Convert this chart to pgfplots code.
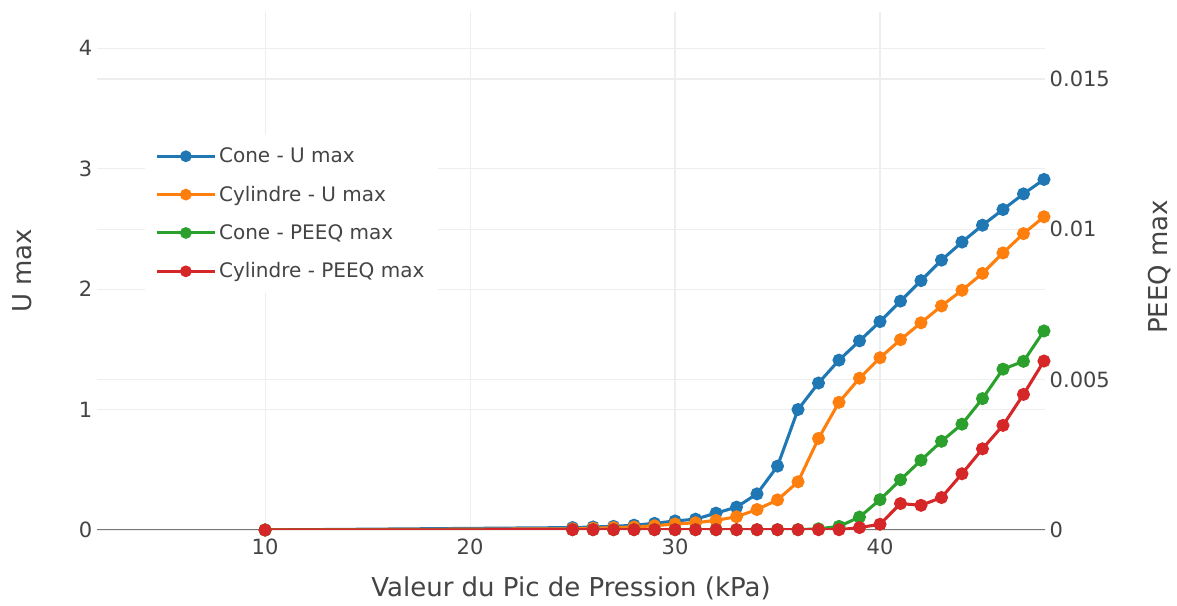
\documentclass[border=0pt]{standalone}
\usepackage{pgfplots}
\pgfplotsset{compat=1.18}
\usepackage{fontspec}
\setmainfont{DejaVu Sans}
\definecolor{pblue}{HTML}{1F77B4}
\definecolor{porange}{HTML}{FF7F0E}
\definecolor{pgreen}{HTML}{2CA02C}
\definecolor{pred}{HTML}{D62728}
\definecolor{txt}{HTML}{444444}
\definecolor{zline}{HTML}{777777}
\definecolor{gridc}{HTML}{EEEEEE}
\begin{document}
\begin{tikzpicture}
\pgfplotsset{
  base/.style={
    scale only axis, width=711pt, height=388.5pt,
    xmin=1.8, xmax=48.05,
    axis line style={draw=none},
    major tick length=0pt,
    scaled y ticks=false,
    tick label style={font=\fontsize{15.75}{18}\selectfont, text=txt},
    label style={font=\fontsize{19.5}{23}\selectfont, text=txt},
    grid style={gridc, line width=0.8pt},
    major grid style={gridc, line width=0.8pt},
    /pgf/number format/assume math mode=true,
  },
  ser/.style={line width=2.3pt, mark=*, mark size=3.7pt, #1, mark options={solid, fill=#1}},
}
\begin{axis}[base,
  ymin=0, ymax=4.3,
  ytick={0,1,2,3,4},
  xtick={10,20,30,40},
  xmajorgrids, ymajorgrids,
  extra y ticks={1.2478,2.4956,3.7435},
  extra y tick labels={},
  extra y tick style={grid=major, major grid style={gridc, line width=0.8pt}},
  xticklabel style={yshift=-3pt},
  xlabel={Valeur du Pic de Pression (kPa)},
  xlabel style={at={(axis description cs:0.5,0)}, anchor=center, yshift=-44pt},
  ylabel={U max},
  ylabel style={at={(axis description cs:-0.079,0.5)}, anchor=center},
]
\draw[color=zline, line width=1.8pt] (rel axis cs:0,0) -- (rel axis cs:1,0);
\addplot[ser=pblue] coordinates {
 (10,0) (25,0.02) (26,0.025) (27,0.03) (28,0.04) (29,0.055) (30,0.075) (31,0.09)
 (32,0.14) (33,0.19) (34,0.30) (35,0.53) (36,1.0) (37,1.22) (38,1.41) (39,1.57)
 (40,1.73) (41,1.90) (42,2.07) (43,2.24) (44,2.39) (45,2.53) (46,2.66) (47,2.79) (48,2.91)};
\addplot[ser=porange] coordinates {
 (10,0) (25,0.01) (26,0.015) (27,0.02) (28,0.025) (29,0.035) (30,0.05) (31,0.06)
 (32,0.08) (33,0.11) (34,0.17) (35,0.25) (36,0.40) (37,0.76) (38,1.06) (39,1.26)
 (40,1.43) (41,1.58) (42,1.72) (43,1.86) (44,1.99) (45,2.13) (46,2.30) (47,2.46) (48,2.60)};
\end{axis}
\begin{axis}[base,
  axis y line*=right, axis x line=none,
  ymin=0, ymax=0.01723,
  ytick={0,0.005,0.01,0.015},
  yticklabels={0,0.005,0.01,0.015},
  ylabel={PEEQ max},
  ylabel style={at={(axis description cs:1.1213,0.508)}, anchor=center},
  legend style={at={(0.05,0.764)}, anchor=north west, draw=none, fill=white,
    font=\fontsize{15}{18}\selectfont, text=txt, row sep=12pt,
    inner xsep=8pt, inner ysep=8pt, cells={anchor=west}},
  legend image code/.code={\draw[mark repeat=2, mark phase=2, mark size=3.2pt] plot coordinates {(0pt,0pt) (21.75pt,0pt) (43.5pt,0pt)};},
]
\addlegendimage{ser=pblue}
\addlegendentry{Cone - U max}
\addlegendimage{ser=porange}
\addlegendentry{Cylindre - U max}
\addplot[ser=pgreen] coordinates {
 (10,0) (25,0.00001) (26,0.00001) (27,0.00001) (28,0.00001) (29,0.00001) (30,0.00001)
 (31,0.00001) (32,0.00001) (33,0.00001) (34,0.00001) (35,0.00001) (36,0.00001)
 (37,0.00004) (38,0.00012) (39,0.00043) (40,0.00101) (41,0.00167) (42,0.00232)
 (43,0.00295) (44,0.00352) (45,0.00437) (46,0.00535) (47,0.00561) (48,0.00662)};
\addlegendentry{Cone - PEEQ max}
\addplot[ser=pred] coordinates {
 (10,0) (25,0.00001) (26,0.00001) (27,0.00001) (28,0.00001) (29,0.00001) (30,0.00001)
 (31,0.00001) (32,0.00001) (33,0.00001) (34,0.00001) (35,0.00001) (36,0.00001)
 (37,0.00001) (38,0.00001) (39,0.00008) (40,0.00019) (41,0.00088) (42,0.00082)
 (43,0.00108) (44,0.00187) (45,0.0027) (46,0.00348) (47,0.00451) (48,0.00562)};
\addlegendentry{Cylindre - PEEQ max}
\path (rel axis cs:0,0) ++(-72.75pt,-57pt) coordinate (bl);
\path (rel axis cs:1,1) ++(99pt,9pt) coordinate (tr);
\end{axis}
\pgfresetboundingbox
\path[use as bounding box] (bl) rectangle (tr);
\end{tikzpicture}
\end{document}
